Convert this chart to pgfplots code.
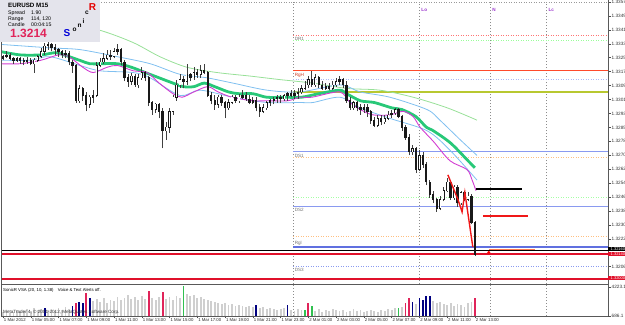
\documentclass[border=0pt]{standalone}
\usepackage{pgfplots}
\pgfplotsset{compat=1.18}
\usepackage{pgfplotstable}
\usepackage{fontspec}
\setmainfont{Liberation Sans}
\definecolor{mabig}{HTML}{28C878}
\definecolor{magc}{HTML}{D23CD2}
\definecolor{lblue}{HTML}{80C0F0}
\definecolor{lgreen}{HTML}{98E098}
\definecolor{rgh}{HTML}{FF4A2A}
\definecolor{olive2}{HTML}{B8C830}
\definecolor{dsblue}{HTML}{8A9AF0}
\definecolor{rglblue}{HTML}{6070E0}
\definecolor{pricered}{HTML}{E0102A}
\definecolor{shortred}{HTML}{F01818}
\definecolor{volgrey}{HTML}{CFCFCF}
\definecolor{volblue}{HTML}{000080}
\definecolor{volred}{HTML}{E0245A}
\definecolor{volgreen}{HTML}{30C050}
\definecolor{boxbg}{HTML}{E4E4EC}
\definecolor{lvio}{HTML}{9933CC}
\newcommand\fs[1]{\fontsize{#1bp}{#1bp}\selectfont}
\pgfplotstableread{
i o h l c
0 1.3325 1.3327 1.3324 1.3326
1 1.3326 1.3329 1.3325 1.3327
2 1.3327 1.3328 1.3324 1.3325
3 1.3325 1.3326 1.3322 1.3324
4 1.3324 1.3326 1.3323 1.3325
5 1.3325 1.3326 1.3322 1.3324
6 1.3324 1.3325 1.3321 1.3323
7 1.3323 1.3326 1.3322 1.3324
8 1.3324 1.3325 1.3321 1.3322
9 1.3322 1.3325 1.3317 1.3324
10 1.3324 1.3327 1.3323 1.3326
11 1.3326 1.3331 1.3325 1.3329
12 1.3329 1.3334 1.3327 1.3332
13 1.3332 1.3335 1.3330 1.3333
14 1.3333 1.3334 1.3329 1.3331
15 1.3331 1.3333 1.3327 1.3330
16 1.3330 1.3331 1.3326 1.3329
17 1.3329 1.3330 1.3325 1.3327
18 1.3327 1.3330 1.3325 1.3328
19 1.3328 1.3329 1.3321 1.3323
20 1.3323 1.3324 1.3317 1.3321
21 1.3321 1.3322 1.3300 1.3301
22 1.3301 1.3310 1.3300 1.3308
23 1.3308 1.3309 1.3301 1.3304
24 1.3304 1.3306 1.3295 1.3299
25 1.3299 1.3304 1.3297 1.3303
26 1.3303 1.3307 1.3300 1.3304
27 1.3304 1.3323 1.3303 1.3321
28 1.3321 1.3325 1.3320 1.3323
29 1.3323 1.3328 1.3322 1.3325
30 1.3325 1.3330 1.3324 1.3327
31 1.3327 1.3330 1.3324 1.3326
32 1.3326 1.3331 1.3325 1.3329
33 1.3329 1.3333 1.3327 1.3330
34 1.3330 1.3331 1.3321 1.3323
35 1.3323 1.3324 1.3312 1.3314
36 1.3314 1.3316 1.3309 1.3312
37 1.3312 1.3317 1.3310 1.3315
38 1.3315 1.3316 1.3309 1.3310
39 1.3310 1.3316 1.3308 1.3314
40 1.3314 1.3320 1.3313 1.3317
41 1.3317 1.3318 1.3312 1.3314
42 1.3314 1.3315 1.3298 1.3300
43 1.3300 1.3301 1.3293 1.3296
44 1.3296 1.3300 1.3294 1.3299
45 1.3299 1.3300 1.3291 1.3295
46 1.3295 1.3297 1.3274 1.3284
47 1.3284 1.3289 1.3279 1.3286
48 1.3286 1.3297 1.3283 1.3295
49 1.3295 1.3304 1.3293 1.3303
50 1.3303 1.3313 1.3301 1.3310
51 1.3310 1.3316 1.3308 1.3313
52 1.3313 1.3315 1.3308 1.3312
53 1.3312 1.3322 1.3310 1.3316
54 1.3316 1.3317 1.3312 1.3314
55 1.3314 1.3320 1.3313 1.3317
56 1.3317 1.3319 1.3314 1.3316
57 1.3316 1.3321 1.3314 1.3318
58 1.3318 1.3322 1.3316 1.3317
59 1.3317 1.3318 1.3303 1.3304
60 1.3304 1.3306 1.3299 1.3301
61 1.3301 1.3304 1.3296 1.3299
62 1.3299 1.3304 1.3297 1.3303
63 1.3303 1.3304 1.3298 1.3300
64 1.3300 1.3301 1.3291 1.3297
65 1.3297 1.3302 1.3296 1.3300
66 1.3300 1.3304 1.3299 1.3303
67 1.3303 1.3304 1.3300 1.3301
68 1.3301 1.3305 1.3300 1.3303
69 1.3303 1.3307 1.3302 1.3304
70 1.3304 1.3306 1.3301 1.3302
71 1.3302 1.3304 1.3299 1.3300
72 1.3300 1.3303 1.3299 1.3301
73 1.3301 1.3303 1.3295 1.3297
74 1.3297 1.3299 1.3292 1.3295
75 1.3295 1.3299 1.3294 1.3297
76 1.3297 1.3301 1.3296 1.3300
77 1.3300 1.3302 1.3298 1.3301
78 1.3301 1.3303 1.3299 1.3302
79 1.3302 1.3304 1.3300 1.3303
80 1.3303 1.3304 1.3300 1.3302
81 1.3302 1.3305 1.3301 1.3304
82 1.3304 1.3306 1.3301 1.3305
83 1.3305 1.3307 1.3303 1.3304
84 1.3304 1.3307 1.3302 1.3305
85 1.3305 1.3308 1.3302 1.3306
86 1.3306 1.3310 1.3305 1.3308
87 1.3308 1.3312 1.3307 1.3310
88 1.3310 1.3315 1.3308 1.3313
89 1.3313 1.3318 1.3309 1.3310
90 1.3310 1.3316 1.3309 1.3314
91 1.3314 1.3315 1.3308 1.3310
92 1.3310 1.3312 1.3307 1.3308
93 1.3308 1.3311 1.3307 1.3309
94 1.3309 1.3311 1.3307 1.3308
95 1.3308 1.3312 1.3307 1.3310
96 1.3310 1.3314 1.3309 1.3312
97 1.3312 1.3315 1.3310 1.3313
98 1.3313 1.3314 1.3308 1.3310
99 1.3310 1.3312 1.3300 1.3301
100 1.3301 1.3303 1.3296 1.3297
101 1.3297 1.3301 1.3296 1.3300
102 1.3300 1.3301 1.3295 1.3297
103 1.3297 1.3299 1.3293 1.3296
104 1.3296 1.3299 1.3294 1.3297
105 1.3297 1.3299 1.3292 1.3295
106 1.3295 1.3296 1.3288 1.3290
107 1.3290 1.3292 1.3286 1.3287
108 1.3287 1.3293 1.3286 1.3291
109 1.3291 1.3293 1.3287 1.3289
110 1.3289 1.3293 1.3288 1.3291
111 1.3291 1.3295 1.3290 1.3293
112 1.3293 1.3296 1.3291 1.3294
113 1.3294 1.3297 1.3293 1.3296
114 1.3296 1.3297 1.3291 1.3292
115 1.3292 1.3293 1.3284 1.3286
116 1.3286 1.3287 1.3279 1.3280
117 1.3280 1.3282 1.3270 1.3272
118 1.3272 1.3276 1.3270 1.3274
119 1.3274 1.3275 1.3260 1.3262
120 1.3262 1.3273 1.3261 1.3270
121 1.3270 1.3272 1.3263 1.3265
122 1.3265 1.3266 1.3253 1.3255
123 1.3255 1.3256 1.3246 1.3248
124 1.3248 1.3250 1.3243 1.3245
125 1.3245 1.3246 1.3238 1.3240
126 1.3240 1.3247 1.3239 1.3245
127 1.3245 1.3252 1.3244 1.3250
128 1.3250 1.3257 1.3249 1.3255
129 1.3255 1.3256 1.3245 1.3246
130 1.3246 1.3253 1.3245 1.3252
131 1.3252 1.3253 1.3241 1.3243
132 1.3243 1.3250 1.3242 1.3249
133 1.3249 1.3250 1.3244 1.3245
134 1.3245 1.3249 1.3244 1.3247
135 1.3247 1.3248 1.3231 1.3232
136 1.3232 1.3233 1.3213 1.3214
}\candles
\pgfplotstableread{
i v k
0 1174 0
1 1296 0
2 1052 0
3 1174 0
4 1418 0
5 1174 0
6 1296 0
7 1540 0
8 1296 0
9 1662 0
10 1418 0
11 1540 0
12 1662 1
13 1418 0
14 1540 0
15 1296 0
16 1662 0
17 1418 0
18 1784 0
19 1540 0
20 1906 1
21 2272 2
22 2394 1
23 2272 1
24 3492 2
25 2882 1
26 2516 0
27 2760 0
28 2394 0
29 2882 0
30 2272 0
31 2638 0
32 2516 0
33 3004 0
34 2638 0
35 2882 0
36 3248 0
37 2760 0
38 3004 0
39 2638 0
40 3126 0
41 2760 0
42 3736 2
43 2882 0
44 2638 0
45 3004 0
46 3614 2
47 2760 0
48 3004 0
49 2638 0
50 3126 0
51 2882 0
52 4346 3
53 3370 0
54 3126 0
55 3248 0
56 2882 0
57 3004 0
58 2760 0
59 2638 0
60 2516 0
61 2394 0
62 2272 0
63 2150 0
64 2272 0
65 2028 0
66 2150 0
67 1906 0
68 2028 0
69 1906 0
70 1784 0
71 1906 0
72 1784 0
73 2028 1
74 1662 0
75 1784 0
76 1540 0
77 1662 0
78 1540 0
79 1418 0
80 1540 0
81 1662 0
82 2028 1
83 1418 0
84 1296 0
85 1540 0
86 1418 0
87 1418 3
88 2272 2
89 1906 3
90 1296 0
91 1540 0
92 1174 0
93 1418 0
94 1296 0
95 1540 0
96 1418 0
97 1296 0
98 1418 0
99 1174 0
100 1296 0
101 1540 0
102 1296 0
103 1418 0
104 1174 0
105 1296 0
106 1418 0
107 1296 0
108 1174 0
109 1418 0
110 1296 0
111 1540 0
112 1418 0
113 1662 0
114 1662 3
115 1784 0
116 2272 2
117 2882 2
118 2394 1
119 2150 0
120 2882 1
121 2638 1
122 3126 1
123 3126 1
124 2516 0
125 2272 0
126 2394 0
127 2150 0
128 2028 0
129 2272 0
130 1906 0
131 2150 0
132 2028 0
133 1784 0
134 2272 0
135 2394 0
136 2882 2
}\vol
\begin{document}
\begin{tikzpicture}
% ---------------- main price panel ----------------
\begin{axis}[
  at={(2bp,41bp)}, anchor=south west, scale only axis,
  width=606bp, height=282bp,
  xmin=-0.288, xmax=174.35, ymin=1.31971, ymax=1.33570,
  axis line style={draw=none},
  xtick=\empty,
  ytick={1.3357,1.33491,1.33412,1.33333,1.33254,1.33175,1.33096,1.33017,1.32938,1.32859,1.3278,1.32701,1.32622,1.32543,1.32464,1.32385,1.32306,1.32227,1.32069},
  yticklabels={1.33570,1.33491,1.33412,1.33333,1.33254,1.33175,1.33096,1.33017,1.32938,1.32859,1.32780,1.32701,1.32622,1.32543,1.32464,1.32385,1.32306,1.32227,1.32069},
  ytick pos=right, yticklabel pos=right, scaled y ticks=false,
  tick align=outside, major tick length=2.5bp,
  tick style={black!70, line width=0.5bp},
  yticklabel style={font=\fs{4.7}, text=black!80, anchor=west, inner sep=0pt, xshift=1bp},
]
% vertical separators
\addplot[black!45, dash pattern=on 1bp off 2bp, line width=0.6bp] coordinates {(83.6,1.3197) (83.6,1.3357)};
\addplot[black!45, dash pattern=on 1bp off 2bp, line width=0.6bp] coordinates {(119.9,1.3197) (119.9,1.3357)};
\addplot[black!45, dash pattern=on 1bp off 2bp, line width=0.6bp] coordinates {(140.3,1.3197) (140.3,1.3357)};
\addplot[black!45, dash pattern=on 1bp off 2bp, line width=0.6bp] coordinates {(156.5,1.3197) (156.5,1.3357)};
% pivot lines
\addplot[red!55, dash pattern=on 1bp off 1.5bp, line width=0.7bp] coordinates {(83.6,1.3338) (175,1.3338)};
\addplot[green!40, dash pattern=on 1bp off 1.5bp, line width=0.7bp] coordinates {(83.6,1.3335) (175,1.3335)};
\addplot[rgh, line width=1.2bp] coordinates {(83.6,1.3318) (175,1.3318)};
\addplot[dsblue!70, dash pattern=on 1bp off 1.5bp, line width=0.7bp] coordinates {(83.6,1.3313) (175,1.3313)};
\addplot[olive2, line width=1.5bp] coordinates {(83.6,1.3306) (175,1.3306)};
\addplot[dsblue, line width=1bp] coordinates {(83.6,1.3272) (175,1.3272)};
\addplot[orange!50, dash pattern=on 1bp off 1.5bp, line width=0.7bp] coordinates {(83.6,1.3269) (175,1.3269)};
\addplot[green!35, dash pattern=on 1bp off 1.5bp, line width=0.7bp] coordinates {(83.6,1.3246) (175,1.3246)};
\addplot[dsblue, line width=1bp] coordinates {(83.6,1.3241) (175,1.3241)};
\addplot[orange!50, dash pattern=on 1bp off 1.5bp, line width=0.7bp] coordinates {(83.6,1.3224) (175,1.3224)};
\addplot[rglblue, line width=1.4bp] coordinates {(83.6,1.3218) (175,1.3218)};
\addplot[black, line width=0.9bp] coordinates {(-1,1.3216) (175,1.3216)};
\addplot[pricered, line width=1.4bp] coordinates {(-1,1.3214) (175,1.3214)};
\addplot[dsblue, dash pattern=on 1bp off 1.5bp, line width=0.8bp] coordinates {(83.6,1.3207) (175,1.3207)};
\addplot[pricered, line width=1.4bp] coordinates {(-1,1.3200) (175,1.3200)};
% moving averages
\addplot[lgreen, line width=0.8bp, smooth] coordinates {(-1,1.3351) (13.5,1.3348) (27.9,1.3341) (37.5,1.3334) (45.2,1.3326) (53,1.3320) (61.7,1.3317) (71.2,1.3315) (79.8,1.3313) (89.3,1.3311) (99.1,1.3308) (108.6,1.3307) (118.2,1.3303) (128,1.3297) (136.6,1.3290)};
\addplot[lblue, line width=0.8bp, smooth] coordinates {(-1,1.3333) (13.5,1.3331) (22.2,1.3330) (32.9,1.3326) (42.4,1.3322) (51,1.3316) (58.8,1.3314) (66.3,1.3311) (76.1,1.3307) (85.6,1.3306) (97.1,1.3310) (102.9,1.3306) (111.5,1.3303) (122.2,1.3296) (125.9,1.3290) (131.7,1.3279) (136.6,1.3270)};
\addplot[lblue, line width=0.8bp, smooth] coordinates {(-1,1.3324) (7.8,1.3324) (13.5,1.3326) (22.2,1.3321) (27.9,1.3318) (37.5,1.3317) (42.4,1.3314) (51,1.3304) (56.8,1.3307) (66.3,1.3303) (76.1,1.3300) (85.6,1.3300) (89.3,1.3300) (97.1,1.3303) (102.9,1.3297) (111.5,1.3291) (122.2,1.3284) (128.8,1.3273) (136.6,1.3256)};
\addplot[mabig, line width=2.8bp, smooth] coordinates {(-1,1.3329) (5,1.3327) (11,1.3327) (14,1.3328) (16,1.3328) (22,1.3324) (25,1.3322) (28,1.3322) (33,1.3322) (37,1.3320) (41,1.3317) (45,1.3314) (49,1.3311) (52,1.3309) (55,1.3309) (58,1.3311) (61,1.3309) (65,1.3306) (68,1.3305) (72,1.3305) (76,1.3303) (81,1.3303) (86,1.3303) (91,1.3305) (97,1.3307) (99,1.3305) (103,1.3301) (107,1.3300) (112,1.3297) (115,1.3296) (119,1.3292) (122,1.3286) (124,1.3284) (129,1.3277) (134,1.3267) (136,1.3263)};
\addplot[magc, line width=0.9bp, smooth] coordinates {(-1,1.3322) (5,1.3322) (11,1.3324) (16,1.3327) (19,1.3326) (23,1.3320) (26,1.3317) (30,1.3320) (33,1.3321) (37.5,1.3318) (41.5,1.3317) (45,1.3311) (49,1.3305) (51.6,1.3303) (55,1.3306) (59,1.3309) (62,1.3306) (66,1.3303) (72,1.3301) (76,1.3301) (82,1.3301) (85.6,1.3303) (89,1.3303) (97,1.3306) (100,1.3300) (103,1.3296) (106.6,1.3293) (111.5,1.3293) (115.3,1.3295) (118.2,1.3292) (120.2,1.3286) (124,1.3278) (128.8,1.3267) (133.7,1.3262) (135.2,1.3256) (136.3,1.3250)};
% candles: wicks
\addplot[draw=none, mark=none, error bars/.cd, y dir=plus, y explicit, error mark=none,
  error bar style={draw=black!75, line width=0.7bp, solid}]
  table[x=i, y=l, y error plus expr={\thisrow{h}-\thisrow{l}}]{\candles};
% candles: bodies
\addplot[draw=none, mark=none, error bars/.cd, y dir=plus, y explicit, error mark=none,
  error bar style={draw=black!90, line width=2.3bp, solid}]
  table[x=i, y expr={min(\thisrow{o},\thisrow{c})-0.00002}, y error plus expr={abs(\thisrow{c}-\thisrow{o})+0.00004}]{\candles};
% bullish bodies white inside
\addplot[draw=none, mark=none, restrict expr to domain={\thisrow{c}-\thisrow{o}}{0.00012:1},
  error bars/.cd, y dir=plus, y explicit, error mark=none,
  error bar style={draw=white, line width=1.1bp, solid}]
  table[x=i, y expr={\thisrow{o}+0.00001}, y error plus expr={\thisrow{c}-\thisrow{o}-0.00002}]{\candles};
% zigzag and short objects
\addplot[shortred, line width=1.4bp] coordinates {(128.2,1.3259) (131.1,1.3245) (132.3,1.3238) (133.1,1.3249) (135.4,1.3218)};
\addplot[black, line width=1.3bp] coordinates {(136.3,1.3251) (149.6,1.3251)};
\addplot[color=shortred, line width=2bp, solid] coordinates {(138.3,1.32355) (151.3,1.32355)};
\addplot[red!50!orange!70, line width=0.7bp] coordinates {(140,1.3217) (153.3,1.3217)};
\addplot[only marks, mark=*, mark size=1.3bp, red] coordinates {(140,1.3215)};
% labels
\node[anchor=north west, inner sep=0.5bp, text=black!55, font=\fs{4.6}] at (axis cs:83.9,1.33372) {DR1};
\node[anchor=north west, inner sep=0.5bp, text=rgh!80!black, font=\fs{4.6}] at (axis cs:83.9,1.33172) {RgH};
\node[anchor=north west, inner sep=0.5bp, text=black!55, font=\fs{4.6}] at (axis cs:83.9,1.32712) {DS1};
\node[anchor=north west, inner sep=0.5bp, text=black!55, font=\fs{4.6}] at (axis cs:83.9,1.32402) {DS2};
\node[anchor=south west, inner sep=0.5bp, text=black!55, font=\fs{4.6}] at (axis cs:83.9,1.32188) {Rgl};
\node[anchor=north west, inner sep=0.5bp, text=black!55, font=\fs{4.6}] at (axis cs:83.9,1.32062) {DS3};
\node[anchor=north west, inner sep=0.5bp, text=lvio, font=\bfseries\fs{4.6}] at (axis cs:120.4,1.33540) {Lo};
\node[anchor=north west, inner sep=0.5bp, text=lvio, font=\bfseries\fs{4.6}] at (axis cs:140.8,1.33540) {N};
\node[anchor=north west, inner sep=0.5bp, text=lvio, font=\bfseries\fs{4.6}] at (axis cs:157.0,1.33540) {Lc};
\end{axis}
% ---------------- volume panel ----------------
\begin{axis}[
  at={(2bp,9bp)}, anchor=south west, scale only axis,
  width=606bp, height=31bp,
  xmin=-0.288, xmax=174.35, ymin=686.1, ymax=4468,
  axis line style={draw=none},
  xtick={0,8,...,136},
  xticklabels={1 Mar 2012,1 Mar 05:00,1 Mar 07:00,1 Mar 09:00,1 Mar 11:00,1 Mar 13:00,1 Mar 15:00,1 Mar 17:00,1 Mar 19:00,1 Mar 21:00,1 Mar 23:00,2 Mar 01:00,2 Mar 03:00,2 Mar 05:00,2 Mar 07:00,2 Mar 09:00,2 Mar 11:00,2 Mar 13:00},
  xtick pos=bottom,
  ytick={686.1,4223.1}, yticklabels={686.1,4223.1},
  ytick pos=right, yticklabel pos=right, scaled y ticks=false, scaled x ticks=false,
  tick align=outside, major tick length=2.5bp,
  tick style={black!70, line width=0.5bp},
  xticklabel style={font=\fs{4.3}, text=black!85, anchor=north west, inner sep=0pt, xshift=0.8bp, yshift=0bp},
  yticklabel style={font=\fs{4.7}, text=black!80, anchor=west, inner sep=0pt, xshift=1bp},
]
\addplot[black!45, dash pattern=on 1bp off 2bp, line width=0.6bp] coordinates {(83.6,686.1) (83.6,4468)};
\addplot[black!45, dash pattern=on 1bp off 2bp, line width=0.6bp] coordinates {(140.3,686.1) (140.3,4468)};
\addplot[black!45, dash pattern=on 1bp off 2bp, line width=0.6bp] coordinates {(156.5,686.1) (156.5,4468)};
\addplot[draw=none, mark=none, restrict expr to domain={\thisrow{k}}{-0.5:0.5}, error bars/.cd, y dir=plus, y explicit, error mark=none, error bar style={draw=volgrey, line width=1.8bp, solid}]
  table[x=i, y expr=686.1, y error plus expr={\thisrow{v}-686.1}]{\vol};
\addplot[draw=none, mark=none, restrict expr to domain={\thisrow{k}}{0.5:1.5}, error bars/.cd, y dir=plus, y explicit, error mark=none, error bar style={draw=volblue, line width=1.8bp, solid}]
  table[x=i, y expr=686.1, y error plus expr={\thisrow{v}-686.1}]{\vol};
\addplot[draw=none, mark=none, restrict expr to domain={\thisrow{k}}{1.5:2.5}, error bars/.cd, y dir=plus, y explicit, error mark=none, error bar style={draw=volred, line width=1.8bp, solid}]
  table[x=i, y expr=686.1, y error plus expr={\thisrow{v}-686.1}]{\vol};
\addplot[draw=none, mark=none, restrict expr to domain={\thisrow{k}}{2.5:3.5}, error bars/.cd, y dir=plus, y explicit, error mark=none, error bar style={draw=volgreen, line width=1.8bp, solid}]
  table[x=i, y expr=686.1, y error plus expr={\thisrow{v}-686.1}]{\vol};
\end{axis}
% ---------------- frame and overlays ----------------
\begin{scope}[x=1bp, y=1bp]
\draw[black!65, line width=0.8bp] (1,9) -- (1,323);
\draw[black!65, line width=0.8bp] (608,9) -- (608,325);
\draw[black!65, line width=1.2bp] (1,40.7) -- (608,40.7);
\draw[black!65, line width=0.8bp] (1,9) -- (608,9);
\draw[black!40, dash pattern=on 1bp off 1.5bp, line width=0.6bp] (1,323) -- (608,323);
% price boxes on right axis
\fill[black] (608,73.6) rectangle (640,77.8);
\node[anchor=west, inner sep=0pt, text=white, font=\fs{4}] at (610.5,75.7) {1.32160};
\fill[pricered] (608,68.6) rectangle (640,72.8);
\node[anchor=west, inner sep=0pt, text=white, font=\fs{4}] at (610.5,70.7) {1.32140};
\fill[pricered] (608,45) rectangle (640,49.2);
\node[anchor=west, inner sep=0pt, text=white, font=\fs{4}] at (610.5,47.1) {1.32000};
% info box
\fill[boxbg] (0,283) rectangle (100,325);
\node[anchor=west, inner sep=0pt, font=\bfseries\fs{6.2}] at (8,319.5) {EURUSD};
\node[anchor=west, inner sep=0pt, font=\bfseries\fs{6.2}] at (36,319.5) {M15};
\node[anchor=west, inner sep=0pt, font=\fs{5.2}] at (8,312) {Spread};
\node[anchor=west, inner sep=0pt, font=\fs{5.2}] at (31,312) {1.90};
\node[anchor=west, inner sep=0pt, font=\fs{5.2}] at (8,306) {Range};
\node[anchor=west, inner sep=0pt, font=\fs{5.2}] at (31,306) {114, 120};
\node[anchor=west, inner sep=0pt, font=\fs{5.2}] at (8,300) {Candle};
\node[anchor=west, inner sep=0pt, font=\fs{5.2}] at (31,300) {00:04:15};
\node[anchor=west, inner sep=0pt, text=volred, font=\bfseries\fs{12}] at (10,292) {1.3214};
\node[inner sep=0pt, text=blue!85!black, font=\bfseries\fs{10}] at (67,292) {S};
\node[inner sep=0pt, font=\bfseries\fs{6.5}] at (74.5,295) {o};
\node[inner sep=0pt, font=\bfseries\fs{6.5}] at (79.5,299) {n};
\node[inner sep=0pt, font=\bfseries\fs{6.5}] at (83.5,303.5) {i};
\node[inner sep=0pt, font=\bfseries\fs{6.5}] at (87,312) {c};
\node[inner sep=0pt, text=red!90!black, font=\bfseries\fs{10}] at (92.5,318) {R};
% volume panel texts
\node[anchor=west, inner sep=0pt, font=\fs{4.3}] at (3,35) {SonicR VSA (20, 10, 1.38)\quad Voice \& Text Alerts off.};
\node[anchor=west, inner sep=0pt, text=black!80, font=\fs{4.6}] at (3,12.5) {MetaTrader 4, © 2001-2012, MetaQuotes Software Corp.};
\end{scope}
\pgfresetboundingbox
\path[use as bounding box] (0,0) rectangle (625bp,325bp);
\end{tikzpicture}
\end{document}
